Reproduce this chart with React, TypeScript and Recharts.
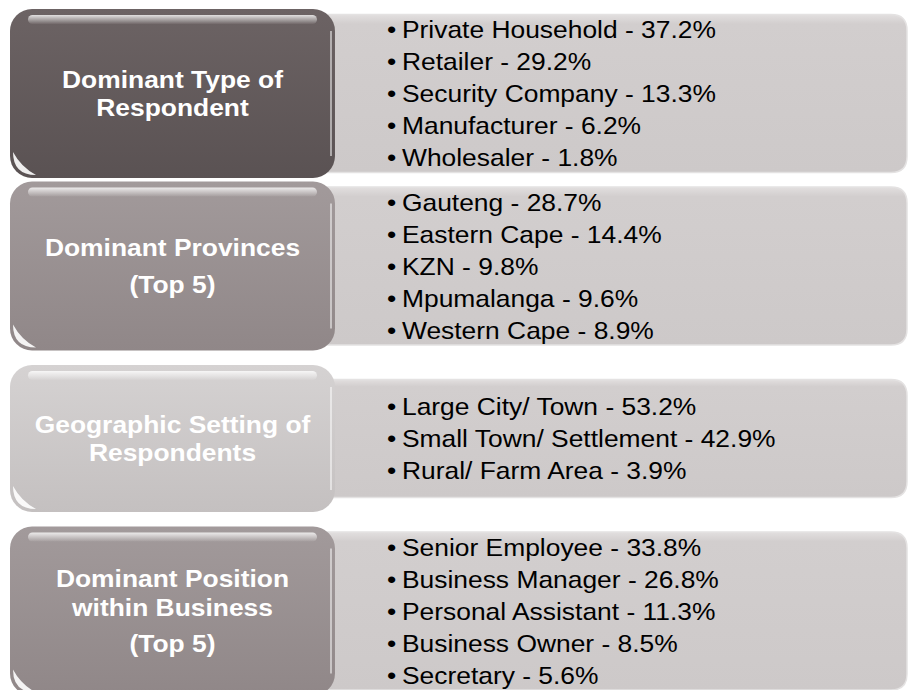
import { Bar, BarChart, XAxis, YAxis } from "recharts"

// section headings, split into paragraphs and lines as on the slide
const SECTIONS = [
  "Dominant Type of Respondent",
  "Dominant Provinces (Top 5)",
  "Geographic Setting of Respondents",
  "Dominant Position within Business (Top 5)",
]
const TITLE_LINES = [
  [["Dominant Type of", "Respondent"]],
  [["Dominant Provinces"], ["(Top 5)"]],
  [["Geographic Setting of", "Respondents"]],
  [["Dominant Position", "within Business"], ["(Top 5)"]],
]

const RESPONDENT_TYPES = ["Private Household", "Retailer", "Security Company", "Manufacturer", "Wholesaler"]
const RESPONDENT_SHARES = [37.2, 29.2, 13.3, 6.2, 1.8]

const PROVINCES = ["Gauteng", "Eastern Cape", "KZN", "Mpumalanga", "Western Cape"]
const PROVINCE_SHARES = [28.7, 14.4, 9.8, 9.6, 8.9]

const SETTINGS = ["Large City/ Town", "Small Town/ Settlement", "Rural/ Farm Area"]
const SETTING_SHARES = [53.2, 42.9, 3.9]

const POSITIONS = ["Senior Employee", "Business Manager", "Personal Assistant", "Business Owner", "Secretary"]
const POSITION_SHARES = [33.8, 26.8, 11.3, 8.5, 5.6]

const ITEMS = [RESPONDENT_TYPES, PROVINCES, SETTINGS, POSITIONS]
const SHARES = [RESPONDENT_SHARES, PROVINCE_SHARES, SETTING_SHARES, POSITION_SHARES]

const BOX_FILLS = [
  ["#6c6364", "#5a5253"],
  ["#a29a9b", "#908788"],
  ["#d5d2d2", "#c4c0c0"],
  ["#a29a9b", "#908788"],
]

const FONT = "'Liberation Sans', Arial, sans-serif"
const STRETCH = 1.1
const FS = 24
const LINE = 32
const TITLE_LINE = 28.5
const PARA_GAP = 8

const rows = SECTIONS.map((name, i) => ({
  name,
  title: TITLE_LINES[i],
  lines: ITEMS[i].map((label, j) => `${label} - ${SHARES[i][j].toFixed(1)}%`),
  span: 1,
}))

function RowShape(props: any) {
  const { x, y, width, height, payload, index } = props
  const n = payload.lines.length
  const pad = n >= 5 ? 2 : 13
  const bx = x
  const by = y + pad
  const bw = width * 0.3623
  const bh = height - 2 * pad
  const r = 22
  const [top, bottom] = BOX_FILLS[index]

  const ph = bh - 11 - (5 - n) * 9
  const py = by + (bh - ph) / 2
  const px = bx + bw - 16
  const pr = x + width
  const pRad = 16
  const panel =
    `M ${px} ${py} H ${pr - pRad} Q ${pr} ${py} ${pr} ${py + pRad} ` +
    `V ${py + ph - pRad} Q ${pr} ${py + ph} ${pr - pRad} ${py + ph} H ${px} Z`

  const cap = FS * 0.716
  const blockH = cap + (n - 1) * LINE
  const firstBase = py + (ph - blockH) / 2 + cap
  const textX = bx + bw + 67
  const bulletX = bx + bw + 52

  // title lines, with a little extra room between paragraphs
  const titleRows: { text: string; dy: number }[] = []
  let off = 0
  payload.title.forEach((para: string[], pi: number) => {
    if (pi > 0) off += PARA_GAP
    para.forEach((t: string) => {
      if (titleRows.length > 0) off += TITLE_LINE
      titleRows.push({ text: t, dy: off })
    })
  })
  const tBlock = cap + off
  const tFirst = by + (bh - tBlock) / 2 + cap
  const cx = bx + bw / 2

  return (
    <g>
      <defs>
        <linearGradient id={`box${index}`} x1="0" y1="0" x2="0" y2="1">
          <stop offset="0" stopColor={top} />
          <stop offset="1" stopColor={bottom} />
        </linearGradient>
        <linearGradient id={`gloss${index}`} x1="0" y1="0" x2="0" y2="1">
          <stop offset="0" stopColor="#ffffff" stopOpacity={0.8} />
          <stop offset="1" stopColor="#ffffff" stopOpacity={0.05} />
        </linearGradient>
        <linearGradient id={`panel${index}`} x1="0" y1="0" x2="0" y2="1">
          <stop offset="0" stopColor="#e2dfdf" />
          <stop offset="0.06" stopColor="#d2cece" />
          <stop offset="1" stopColor="#cdc9c9" />
        </linearGradient>
      </defs>

      <path d={panel} fill={`url(#panel${index})`} stroke="#e4e2e2" strokeWidth={1.5} />

      <rect x={bx} y={by} width={bw} height={bh} rx={r} ry={r} fill={`url(#box${index})`} />
      <rect x={bx + 18} y={by + 6} width={bw - 36} height={9} rx={4.5} fill={`url(#gloss${index})`} />
      <path
        d={`M ${bx + bw - 4} ${by + r} V ${by + bh - r}`}
        stroke="#ffffff"
        strokeOpacity={0.5}
        strokeWidth={2}
      />
      <path
        d={`M ${bx + 3} ${by + bh - 26} Q ${bx + 3} ${by + bh - 3} ${bx + 26} ${by + bh - 3} Q ${bx + 11} ${by + bh - 11} ${bx + 3} ${by + bh - 26} Z`}
        fill="#ffffff"
        fillOpacity={0.9}
      />

      {titleRows.map((t, k) => (
        <g key={k} transform={`translate(${cx} ${tFirst + t.dy}) scale(${STRETCH} 1)`}>
          <text
            x={0}
            y={0}
            textAnchor="middle"
            fontFamily={FONT}
            fontWeight="bold"
            fontSize={FS}
            fill="#ffffff"
          >
            {t.text}
          </text>
        </g>
      ))}

      {payload.lines.map((line: string, k: number) => (
        <g key={k}>
          <g transform={`translate(${bulletX} ${firstBase + k * LINE}) scale(${STRETCH} 1)`}>
            <text x={0} y={0} fontFamily={FONT} fontSize={FS} fill="#000000">
              •
            </text>
          </g>
          <g transform={`translate(${textX} ${firstBase + k * LINE}) scale(${STRETCH} 1)`}>
            <text x={0} y={0} fontFamily={FONT} fontSize={FS} fill="#000000">
              {line}
            </text>
          </g>
        </g>
      ))}
    </g>
  )
}

export default function App() {
  return (
    <div style={{ position: "absolute", left: 0, top: 0, width: 910, height: 690, overflow: "hidden", background: "#ffffff" }}>
      <BarChart
        width={910}
        height={702}
        data={rows}
        layout="vertical"
        barCategoryGap={0}
        margin={{ top: 7, right: 3, bottom: 5, left: 10 }}
      >
        <XAxis type="number" domain={[0, 1]} hide />
        <YAxis type="category" dataKey="name" hide />
        <Bar dataKey="span" isAnimationActive={false} shape={RowShape} />
      </BarChart>
    </div>
  )
}
